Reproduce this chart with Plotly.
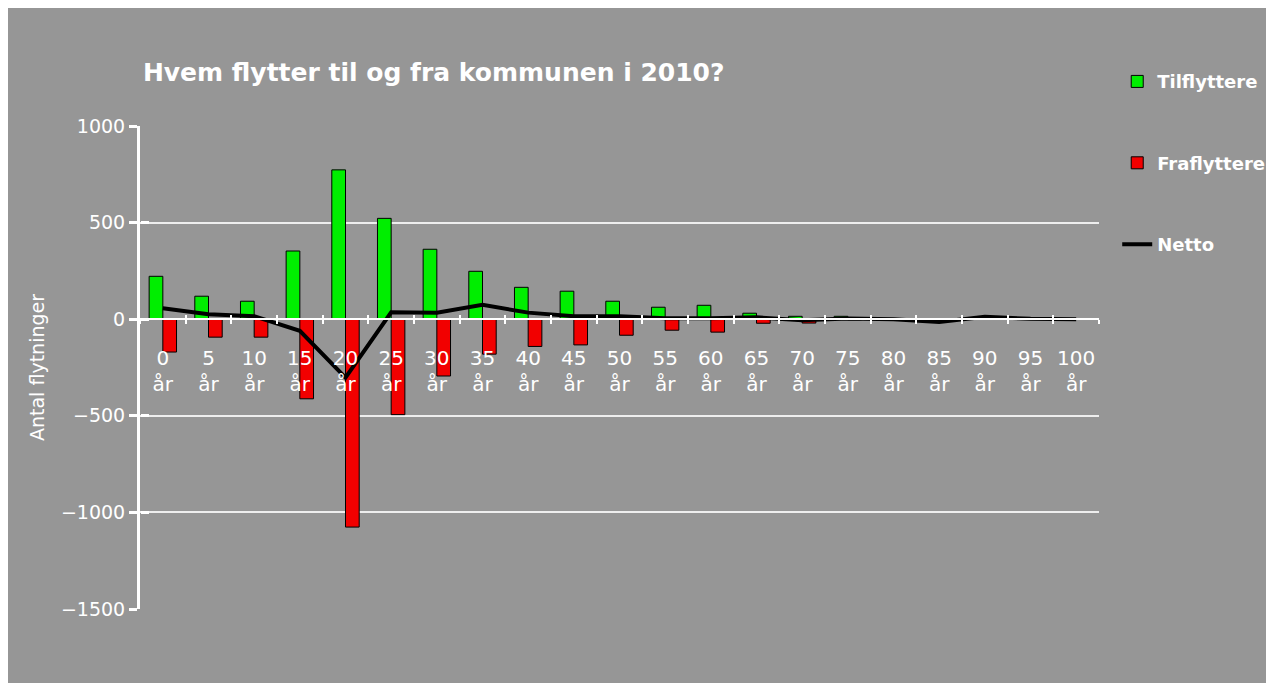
import plotly.graph_objects as go

ages = [0, 5, 10, 15, 20, 25, 30, 35, 40, 45, 50, 55, 60, 65, 70, 75, 80, 85, 90, 95, 100]
tick_labels = [f"{a}<br>år" for a in ages]
tilflyttere = [222, 119, 93, 353, 773, 522, 362, 248, 165, 145, 93, 62, 72, 31, 15, 15, 3, 2, 3, 0, 0]
fraflyttere = [-170, -93, -93, -412, -1076, -494, -294, -181, -141, -133, -83, -57, -67, -21, -20, -3, -2, -12, 0, 0, 0]
netto = [57, 26, 15, -60, -302, 36, 34, 74, 34, 15, 15, 5, 5, 10, -6, 3, 0, -15, 13, 2, 0]

BG = "#969696"
FONT = "DejaVu Sans"

fig = go.Figure()
fig.add_trace(go.Bar(x=tick_labels, y=tilflyttere, name="Tilflyttere",
                     marker=dict(color="#00ee00", line=dict(color="black", width=1)),
                     legendgroup="a"))
fig.add_trace(go.Bar(x=tick_labels, y=fraflyttere, name="Fraflyttere",
                     marker=dict(color="#f20000", line=dict(color="black", width=1)),
                     legendgroup="b"))
fig.add_trace(go.Scatter(x=tick_labels, y=netto, name="Netto", mode="lines",
                         line=dict(color="black", width=4), legendgroup="c"))
# helper trace for the overlay axes (crossing tick marks)
fig.add_trace(go.Scatter(x=tick_labels, y=netto, xaxis="x2", yaxis="y2", mode="lines",
                         line=dict(width=0, color="rgba(0,0,0,0)"), showlegend=False,
                         hoverinfo="skip"))

fig.update_layout(
    width=1266, height=675,
    margin=dict(l=132, r=175, t=118, b=74, autoexpand=False),
    paper_bgcolor=BG, plot_bgcolor=BG,
    font=dict(family=FONT, color="white", size=19),
    barmode="group", bargap=0.4, bargroupgap=0,
    title=dict(text="Hvem flytter til og fra kommunen i 2010?",
               font=dict(family=FONT, size=25, color="white", weight="bold"),
               x=0.003, xanchor="left", xref="paper",
               y=1 - 64 / 675, yanchor="middle", yref="container"),
    showlegend=True,
    legend=dict(x=1.019, xanchor="left", y=1.13, yanchor="top",
                bgcolor="rgba(0,0,0,0)", tracegroupgap=55,
                font=dict(family=FONT, size=18, color="white", weight="bold")),
    xaxis=dict(type="category", categoryorder="array", categoryarray=tick_labels,
               range=[-0.5, 20.5],
               anchor="free", position=0.6, showgrid=False,
               showline=True, linecolor="white", linewidth=2,
               ticks="outside", tickson="boundaries", ticklen=4, tickwidth=2, tickcolor="white",
               ticklabelstandoff=21, tickangle=0,
               tickfont=dict(family=FONT, size=20, color="white")),
    xaxis2=dict(type="category", categoryorder="array", categoryarray=tick_labels,
                range=[-0.5, 20.5],
                overlaying="x", anchor="free", position=0.6, side="bottom",
                showgrid=False, showline=False, showticklabels=False,
                ticks="inside", tickson="boundaries", ticklen=4, tickwidth=2, tickcolor="white"),
    yaxis=dict(range=[-1500, 1000], dtick=500, tick0=0,
               showgrid=True, gridcolor="#eeeeee", gridwidth=2,
               zeroline=True, zerolinecolor="#eeeeee", zerolinewidth=2,
               showline=True, linecolor="white", linewidth=3,
               ticks="outside", ticklen=8, tickwidth=3, tickcolor="white",
               tickfont=dict(family=FONT, size=19, color="white"),
               title=dict(text="Antal flytninger", standoff=12,
                          font=dict(family=FONT, size=19, color="white"))),
    yaxis2=dict(range=[-1500, 1000], dtick=500, tick0=0, overlaying="y",
                anchor="free", position=0, side="left", showgrid=False, zeroline=False,
                showline=False, showticklabels=False,
                ticks="inside", ticklen=8, tickwidth=3, tickcolor="white"),
)

fig.write_html("out.html")
